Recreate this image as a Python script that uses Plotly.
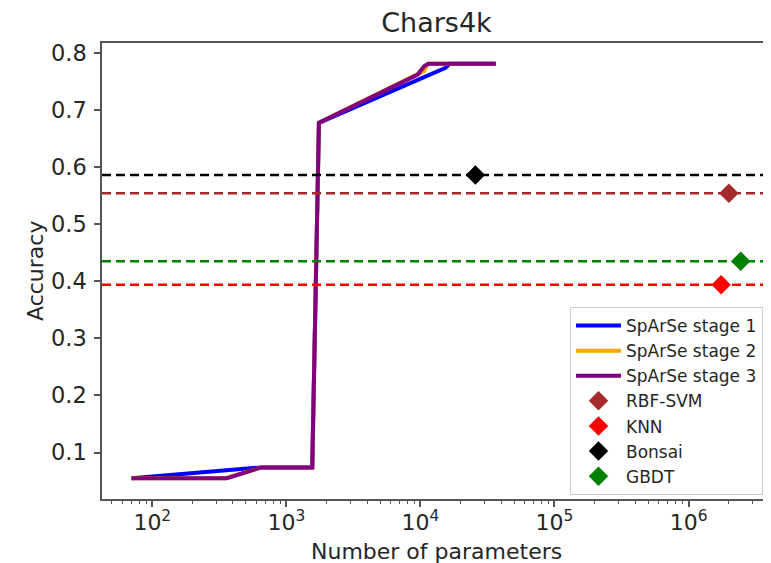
import plotly.graph_objects as go

# ---- data ----
stage1_x = [70, 650, 1560, 1750, 15400, 16500, 36500]
stage1_y = [0.055, 0.074, 0.074, 0.6775, 0.774, 0.781, 0.781]

stage2_x = [70, 350, 650, 1560, 1750, 10600, 11300, 36500]
stage2_y = [0.055, 0.055, 0.074, 0.074, 0.6775, 0.768, 0.781, 0.781]

stage3_x = [70, 360, 650, 1560, 1750, 9550, 10700, 11500, 36500]
stage3_y = [0.055, 0.055, 0.074, 0.074, 0.6775, 0.762, 0.777, 0.781, 0.781]

baseline_names = ["RBF-SVM", "KNN", "Bonsai", "GBDT"]
baseline_params = [2.0e6, 1.75e6, 2.57e4, 2.45e6]
baseline_acc = [0.554, 0.394, 0.586, 0.435]
baseline_colors = ["brown", "red", "black", "green"]

xtick_vals = [1e2, 1e3, 1e4, 1e5, 1e6]
xtick_text = ["10<sup>2</sup>", "10<sup>3</sup>", "10<sup>4</sup>", "10<sup>5</sup>", "10<sup>6</sup>"]
ytick_vals = [0.1, 0.2, 0.3, 0.4, 0.5, 0.6, 0.7, 0.8]

FONT = "DejaVu Sans"
TXT = "#262626"
AX = "#555555"

# page body has an 8px margin, so the figure is sized to fit the window
W, H = 763, 555
ML, MT, MB, MR = 94, 35, 64, 0
PW, PH = W - ML - MR, H - MT - MB

fig = go.Figure()

for xs, ys, name, col in [
    (stage1_x, stage1_y, "SpArSe stage 1", "blue"),
    (stage2_x, stage2_y, "SpArSe stage 2", "orange"),
    (stage3_x, stage3_y, "SpArSe stage 3", "purple"),
]:
    fig.add_trace(go.Scatter(x=xs, y=ys, mode="lines", name=name,
                             line=dict(color=col, width=4)))

for acc, col in zip(baseline_acc, baseline_colors):
    fig.add_hline(y=acc, line=dict(color=col, width=2.5, dash="9px,5px"))

for name, px, acc, col in zip(baseline_names, baseline_params, baseline_acc, baseline_colors):
    fig.add_trace(go.Scatter(x=[px], y=[acc], mode="markers", name=name,
                             marker=dict(symbol="diamond", size=15, color=col)))

fig.update_layout(
    width=W, height=H,
    margin=dict(l=ML, r=MR, t=MT, b=MB, autoexpand=False),
    paper_bgcolor="white", plot_bgcolor="white",
    font=dict(family=FONT, color=TXT, size=20),
    title=dict(text="Chars4k", x=0.5, xref="paper", y=1 - 15 / H, yref="container",
               yanchor="middle", xanchor="center", font=dict(size=27, color=TXT)),
    showlegend=True,
    legend=dict(x=(562 - ML) / PW, xanchor="left", y=4 / PH, yanchor="bottom",
                bgcolor="white", bordercolor="#cccccc", borderwidth=1,
                font=dict(size=17, color=TXT), tracegroupgap=0, itemwidth=45),
    annotations=[
        dict(text="Number of parameters", xref="paper", yref="paper",
             x=0.5, y=-52 / PH, xanchor="center", yanchor="middle",
             showarrow=False, font=dict(size=22, color=TXT)),
        dict(text="Accuracy", xref="paper", yref="paper",
             x=(27 - ML) / PW, y=0.5, xanchor="center", yanchor="middle",
             textangle=-90, showarrow=False, font=dict(size=22, color=TXT)),
    ],
)

fig.update_xaxes(
    type="log", range=[1.625, 6.615],
    tickvals=xtick_vals, ticktext=xtick_text,
    ticks="outside", ticklen=6, tickwidth=1.5, tickcolor=AX,
    minor=dict(ticks="outside", ticklen=3.5, tickwidth=1, tickcolor=AX, dtick="D1", showgrid=False),
    showline=True, linecolor=AX, linewidth=1.5, mirror=True,
    showgrid=False, zeroline=False,
    tickfont=dict(size=22, color=TXT), ticklabelstandoff=-3,
)
fig.update_yaxes(
    range=[0.0187, 0.8173],
    tickvals=ytick_vals, tickformat=".1f",
    ticks="outside", ticklen=6, tickwidth=1.5, tickcolor=AX,
    showline=True, linecolor=AX, linewidth=1.5, mirror=True,
    showgrid=False, zeroline=False,
    tickfont=dict(size=22.5, color=TXT), ticklabelstandoff=3,
)

fig.write_html("out.html")
